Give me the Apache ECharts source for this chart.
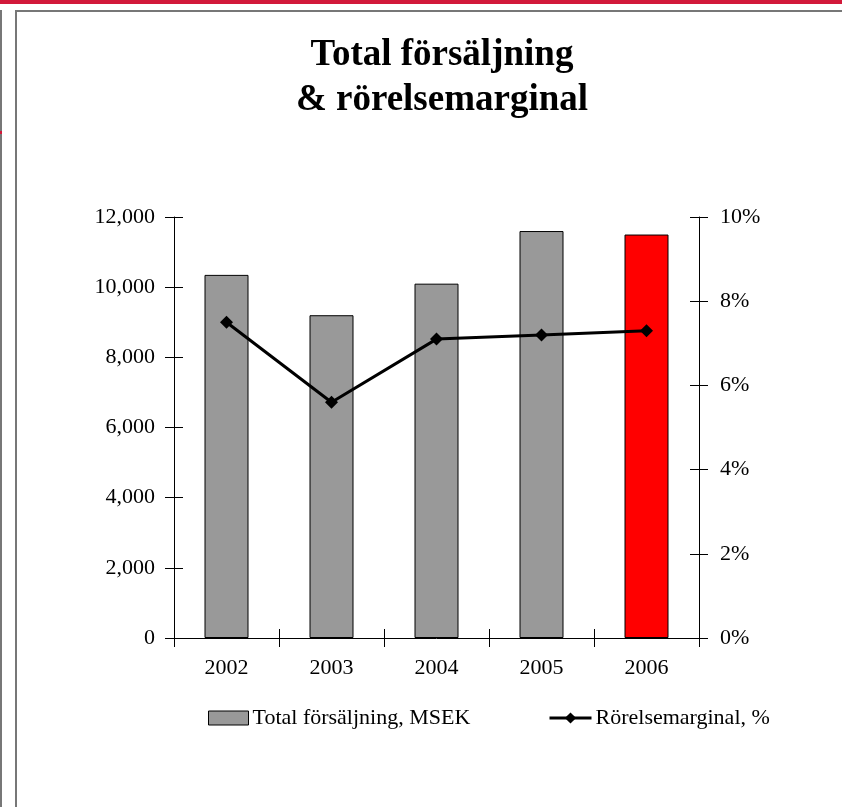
<!DOCTYPE html>
<html>
<head>
<meta charset="utf-8">
<script src="https://cdn.jsdelivr.net/npm/echarts@6/dist/echarts.min.js"></script>
<style>
  html, body { margin: 0; padding: 0; background: #fff; }
  #chart { width: 842px; height: 807px; }
</style>
</head>
<body>
<div id="chart"></div>
<script>
// data
const years = ['2002', '2003', '2004', '2005', '2006']
const sales = [10350, 9200, 10100, 11600, 11500] // MSEK
const margin = [7.5, 5.6, 7.1, 7.2, 7.3] // %
const barColors = ['#999999', '#999999', '#999999', '#999999', '#ff0000']

const font = '"Liberation Serif", "Times New Roman", serif'
const axisLine = { show: true, lineStyle: { color: '#000', width: 1 } }
const labelStyle = { color: '#000', fontFamily: font, fontSize: 22 }
const tickOut = { show: true, length: 9, lineStyle: { color: '#000' } }
const tickIn = { show: true, inside: true, length: 9, lineStyle: { color: '#000' } }

const chart = echarts.init(document.getElementById('chart'))

const options = {
  backgroundColor: '#fff',
  animation: false,
  graphic: [
    // top red stripe and frame lines
    { type: 'rect', shape: { x: 0, y: 0, width: 842, height: 4 }, style: { fill: '#d2193a' } },
    { type: 'rect', shape: { x: 0, y: 10, width: 2, height: 797 }, style: { fill: '#777' } },
    { type: 'rect', shape: { x: 0, y: 131, width: 2, height: 3 }, style: { fill: '#d2193a' } },
    { type: 'rect', shape: { x: 15, y: 10, width: 827, height: 2 }, style: { fill: '#777' } },
    { type: 'rect', shape: { x: 15, y: 10, width: 2, height: 797 }, style: { fill: '#777' } }
  ],
  title: {
    text: 'Total försäljning\n& rörelsemarginal',
    left: 437,
    top: 28,
    textAlign: 'center',
    textStyle: {
      fontFamily: font,
      fontWeight: 'bold',
      fontSize: 37,
      lineHeight: 45,
      color: '#000'
    }
  },
  legend: [
    {
      left: 203,
      top: 702,
      itemWidth: 40,
      itemHeight: 14,
      icon: 'rect',
      textStyle: { fontFamily: font, fontSize: 22, color: '#000', padding: [0, 0, 0, -1] },
      data: [
        { name: 'Total försäljning, MSEK', itemStyle: { color: '#999999', borderColor: '#000', borderWidth: 1 } }
      ]
    },
    {
      left: 543,
      top: 702,
      itemWidth: 42,
      itemHeight: 14,
      textStyle: { fontFamily: font, fontSize: 22, color: '#000', padding: [0, 0, 0, -1] },
      data: [{ name: 'Rörelsemarginal, %', lineStyle: { color: '#000', width: 3 } }]
    }
  ],
  grid: {
    left: 174,
    right: 143,
    top: 217,
    bottom: 169
  },
  xAxis: [
    {
      type: 'category',
      data: years,
      axisLine: axisLine,
      axisTick: tickOut,
      axisLabel: Object.assign({ margin: 19 }, labelStyle)
    },
    {
      // duplicate for ticks crossing the axis
      type: 'category',
      position: 'bottom',
      data: years,
      axisLine: { show: false },
      axisTick: tickIn,
      axisLabel: { show: false }
    }
  ],
  yAxis: [
    {
      type: 'value',
      min: 0,
      max: 12000,
      interval: 2000,
      axisLine: axisLine,
      axisTick: tickOut,
      splitLine: { show: false },
      axisLabel: Object.assign({
        margin: 19,
        formatter: (v) => v.toLocaleString('en-US')
      }, labelStyle)
    },
    {
      type: 'value',
      min: 0,
      max: 10,
      interval: 2,
      position: 'right',
      axisLine: axisLine,
      axisTick: tickOut,
      splitLine: { show: false },
      axisLabel: Object.assign({
        margin: 21,
        formatter: (v) => v + '%'
      }, labelStyle)
    },
    {
      type: 'value',
      min: 0,
      max: 12000,
      interval: 2000,
      position: 'left',
      axisLine: { show: false },
      axisTick: tickIn,
      splitLine: { show: false },
      axisLabel: { show: false }
    },
    {
      type: 'value',
      min: 0,
      max: 10,
      interval: 2,
      position: 'right',
      axisLine: { show: false },
      axisTick: tickIn,
      splitLine: { show: false },
      axisLabel: { show: false }
    }
  ],
  series: [
    {
      name: 'Total försäljning, MSEK',
      type: 'bar',
      barWidth: 44,
      itemStyle: { color: '#999999', borderColor: '#000', borderWidth: 1 },
      data: sales.map((v, i) => ({ value: v, itemStyle: { color: barColors[i] } }))
    },
    {
      name: 'Rörelsemarginal, %',
      type: 'line',
      yAxisIndex: 1,
      symbol: 'diamond',
      symbolSize: 13,
      lineStyle: { color: '#000', width: 3 },
      itemStyle: { color: '#000' },
      data: margin
    }
  ]
}
chart.setOption(options)
</script>
</body>
</html>
